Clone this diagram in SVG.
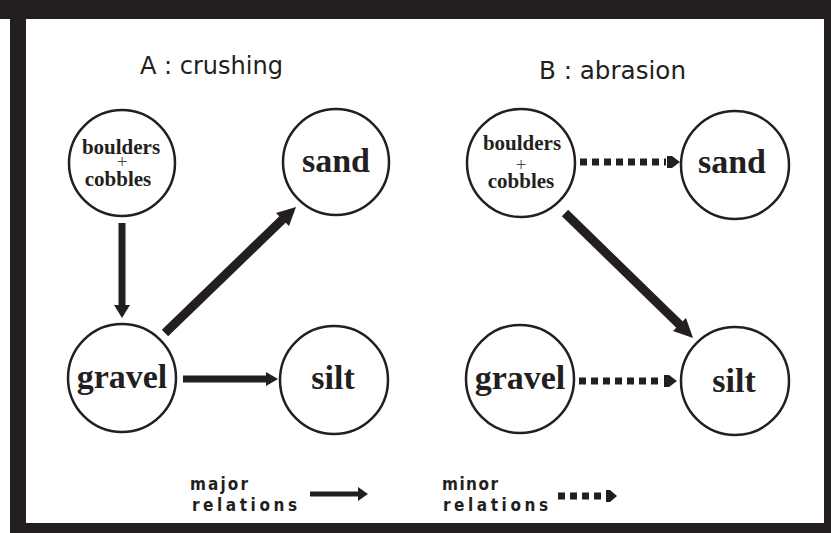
<svg xmlns="http://www.w3.org/2000/svg" width="831" height="533" viewBox="0 0 831 533">
<style>
.frame{fill:#231f20}
.node{fill:#fff;stroke:#231f20;stroke-width:2.5}
.lbl{font-family:"Liberation Serif",serif;font-weight:bold;fill:#231f20;text-anchor:middle}
.big{font-size:34px}
.small{font-size:21px}
.plus{font-family:"Liberation Serif",serif;font-size:19px;fill:#4a4647;text-anchor:middle}
.title{font-family:"DejaVu Sans Condensed","DejaVu Sans",sans-serif;font-size:25px;fill:#231f20}
.leg{font-family:"DejaVu Sans Condensed","DejaVu Sans",sans-serif;font-weight:bold;font-size:17px;fill:#231f20}
.solid{stroke:#231f20;fill:none}
.dot{stroke:#231f20;fill:none;stroke-width:7;stroke-dasharray:7 5}
.head{fill:#231f20}
</style>
<rect x="0" y="0" width="831" height="533" fill="#fff"/>
<g id="frame">
<rect class="frame" x="0" y="0" width="831" height="19"/>
<rect class="frame" x="10" y="0" width="16" height="533"/>
<rect class="frame" x="10" y="523" width="821" height="10"/>
<rect class="frame" x="824" y="0" width="7" height="533"/>
</g>
<text class="title" x="140" y="74" textLength="143" lengthAdjust="spacingAndGlyphs">A : crushing</text>
<text class="title" x="539" y="79" textLength="147" lengthAdjust="spacingAndGlyphs">B : abrasion</text>
<g id="connectors">
<line class="solid" x1="122" y1="223" x2="122" y2="308" stroke-width="7"/>
<polygon class="head" points="114,305 130,305 122,318"/>
<line class="solid" x1="165" y1="333" x2="284" y2="218" stroke-width="9"/>
<polygon class="head" points="296,207 289,226 276,213"/>
<line class="solid" x1="183" y1="379" x2="268" y2="379" stroke-width="7"/>
<polygon class="head" points="266,372 266,386 278,379"/>
<line class="dot" x1="580" y1="162" x2="666" y2="162"/>
<polygon class="head" points="667,156 672,156 680,162 672,168 667,168"/>
<line class="solid" x1="565" y1="213" x2="682" y2="327" stroke-width="9"/>
<polygon class="head" points="693,338 673,331 686,318"/>
<line class="dot" x1="579" y1="381" x2="663" y2="381"/>
<polygon class="head" points="664,375 669,375 677,381 669,387 664,387"/>
<line class="solid" x1="310" y1="494" x2="360" y2="494" stroke-width="5"/>
<polygon class="head" points="358,487 358,501 368,494"/>
<line class="dot" x1="558" y1="496" x2="604" y2="496" stroke-width="6"/>
<polygon class="head" points="606,490 610,490 617,496 610,502 606,502"/>
</g>
<g id="a-boulders">
<circle class="node" cx="122" cy="163" r="53"/>
<text class="lbl small" x="121" y="154">boulders</text>
<text class="plus" x="122" y="168">+</text>
<text class="lbl small" x="118" y="186">cobbles</text>
</g>
<g id="a-sand">
<circle class="node" cx="336" cy="162" r="53"/>
<text class="lbl big" x="336" y="172">sand</text>
</g>
<g id="a-gravel">
<circle class="node" cx="122" cy="378" r="54"/>
<text class="lbl big" x="122" y="388">gravel</text>
</g>
<g id="a-silt">
<circle class="node" cx="334" cy="380" r="54"/>
<text class="lbl big" x="333" y="389">silt</text>
</g>
<g id="b-boulders">
<circle class="node" cx="521" cy="163" r="54"/>
<text class="lbl small" x="522" y="150">boulders</text>
<text class="plus" x="521" y="171">+</text>
<text class="lbl small" x="521" y="188">cobbles</text>
</g>
<g id="b-sand">
<circle class="node" cx="735" cy="165" r="54"/>
<text class="lbl big" x="732" y="173">sand</text>
</g>
<g id="b-gravel">
<circle class="node" cx="520" cy="379" r="54"/>
<text class="lbl big" x="520" y="389">gravel</text>
</g>
<g id="b-silt">
<circle class="node" cx="735" cy="381" r="54"/>
<text class="lbl big" x="734" y="392">silt</text>
</g>
<g id="legend">
<text class="leg" x="190" y="490" textLength="58" lengthAdjust="spacing">major</text>
<text class="leg" x="192" y="511" textLength="105" lengthAdjust="spacing">relations</text>
<text class="leg" x="442" y="490" textLength="56" lengthAdjust="spacing">minor</text>
<text class="leg" x="443" y="511" textLength="105" lengthAdjust="spacing">relations</text>
</g>
</svg>
